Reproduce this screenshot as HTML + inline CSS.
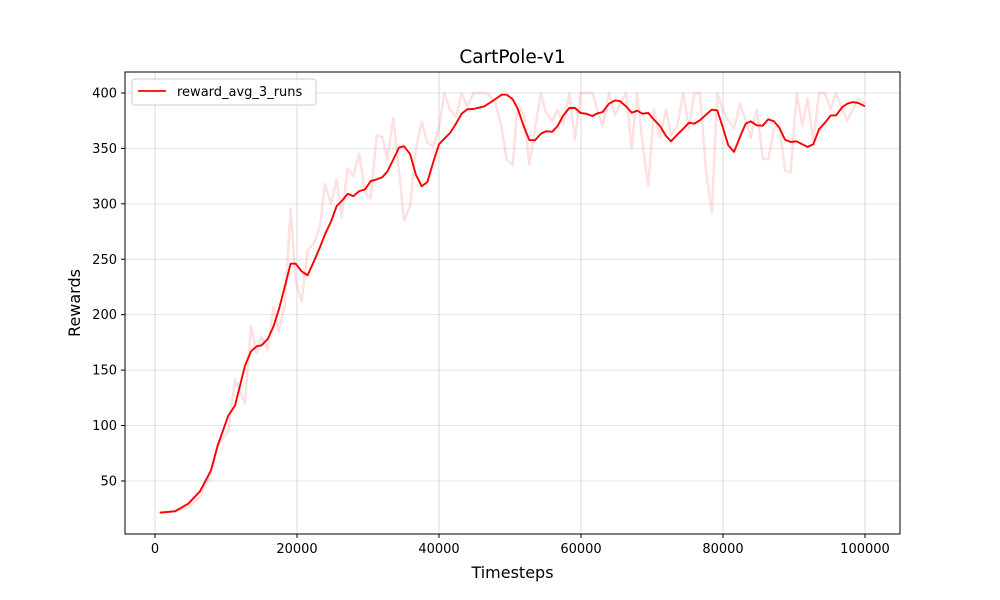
<!DOCTYPE html>
<html><head><meta charset="utf-8"><style>
body{margin:0;background:#fff;}
svg{display:block;font-family:"DejaVu Sans","Liberation Sans",sans-serif;}
</style></head><body>
<svg id="chart" width="1000" height="600" viewBox="0 0 1000 600" xmlns="http://www.w3.org/2000/svg">
<rect width="1000" height="600" fill="#fff"/>
<g id="grid"></g>
<g id="plot"></g>
<rect x="125" y="72" width="775" height="462" fill="none" stroke="#000" stroke-width="1"/>
<g id="ticks"></g>
<text x="512.5" y="63" text-anchor="middle" font-size="18.5">CartPole-v1</text>
<text x="512.5" y="578" text-anchor="middle" font-size="16">Timesteps</text>
<text transform="translate(80,303) rotate(-90)" text-anchor="middle" font-size="16">Rewards</text>
<g>
<rect x="132" y="79" width="184" height="26" rx="3" fill="#fff" fill-opacity="0.8" stroke="#ccc"/>
<line x1="138" y1="91" x2="166" y2="91" stroke="#f00" stroke-width="1.8"/>
<text x="177" y="96" font-size="13">reward_avg_3_runs</text>
</g>
</svg>
<script>
const timesteps=[660,2820,4690,6340,7890,8830,10330,11270,12680,13520,14320,15020,15870,16660,17460,18310,19100,19820,20660,21500,22440,23240,23940,24790,25590,26300,27140,27930,28780,29580,30380,31220,32020,
32720,33570,34370,35070,35920,36760,37560,38360,39200,40000,40750,41550,42390,43190,43990,44830,45630,46380,47180,48030,48830,49530,50380,51080,51970,52720,53520,54370,55070,55960,56710,57510,58350,59150,59950,60700,61590,62300,63050,63940,64790,65490,66340,67140,67920,
68660,69480,70280,71130,71970,72680,73570,74410,75210,75960,76760,77610,78410,79200,79960,80750,81550,82390,83190,83900,84740,85590,86380,87180,87930,88730,89530,90380,91170,91920,92720,93520,94370,95170,95920,96810,97510,98270,99060,100000];
const smoothed=[21.4,22.6,29.5,40.7,59.6,82,109,118,154,167,171.5,172.4,178,189,205,226,246,246,239,235.5,249,261,272.5,284,298,302.5,309,307,311.5,313,320.5,322,324,
329,340,350.6,352,345,326,315.8,319.7,337.7,353.7,358.7,363.9,372.3,381.3,385.3,385.5,386.7,388,391.2,394.9,398.4,398.4,394.3,385.8,369.3,357.6,357.3,363.3,365.4,365.1,370.2,379.8,386.4,386.4,381.9,381.3,379.2,381.6,382.8,390.3,393.3,392.7,388,382.2,384,
381.3,381.9,375.9,370.2,361.2,356.4,362.4,367.8,373.2,372.3,375.4,380.4,384.9,384.3,369.3,352.8,346.8,360.3,372.3,374.4,370.8,370.5,376.2,374.4,368.7,357.8,355.8,356.4,353.7,351.3,353.7,367.2,373.2,379.8,379.8,387.3,390.3,391.8,390.9,388];
const raw=[22,23,26,36,57,82,95,142,120,190,165,180,168,207,185,210,296,230,212,258,265,280,318,300,322,288,332,325,345,310,305,362,360,
340,377,330,285,298,350,374,355,352,368,400,385,378,400,387,400,400,400,398,390,368,340,335,390,380,335,368,400,382,375,385,372,400,358,400,400,400,385,370,400,380,390,400,350,400,
355,316,385,360,385,362,370,400,368,400,400,330,292,400,385,375,368,390,376,360,385,341,340,368,372,330,328,400,370,395,356,400,400,385,400,385,375,385,395,390];
const xTicks=[0,20000,40000,60000,80000,100000];
const yTicks=[50,100,150,200,250,300,350,400];

const NS='http://www.w3.org/2000/svg';
function X(t){return 155+t*0.0071;}
function Y(v){return 536.4-v*1.1086;}
function mk(tag,attrs,parent){const e=document.createElementNS(NS,tag);for(const k in attrs)e.setAttribute(k,attrs[k]);parent.appendChild(e);return e;}
const grid=document.getElementById('grid'),plot=document.getElementById('plot'),ticks=document.getElementById('ticks');
xTicks.forEach(t=>{
  const g=mk('line',{x1:X(t),x2:X(t),y1:72,y2:534,stroke:'#b0b0b0','stroke-opacity':0.45,'stroke-width':1},grid);
  
  
  const tk=mk('line',{x1:X(t),x2:X(t),y1:534,y2:538,stroke:'#000'},ticks);
  
  
  const lb=mk('text',{x:X(t),y:553,'text-anchor':'middle','font-size':13},ticks);
  lb.textContent=t;
  
  
});
yTicks.forEach(v=>{
  const g=mk('line',{x1:125,x2:900,y1:Y(v),y2:Y(v),stroke:'#b0b0b0','stroke-opacity':0.35,'stroke-width':1},grid);
  
  
  const tk=mk('line',{x1:121,x2:125,y1:Y(v),y2:Y(v),stroke:'#000'},ticks);
  
  
  const lb=mk('text',{x:117,y:Y(v)+4.5,'text-anchor':'end','font-size':13},ticks);
  lb.textContent=v;
  
  
});
const rawPts=timesteps.map((t,i)=>X(t).toFixed(1)+','+Y(raw[i]).toFixed(1)).join(' ');
const rl=mk('polyline',{points:rawPts,fill:'none',stroke:'#f00','stroke-opacity':0.12,'stroke-width':2.4,'stroke-linejoin':'round'},plot);


const smPts=timesteps.map((t,i)=>X(t).toFixed(1)+','+Y(smoothed[i]).toFixed(1)).join(' ');
const sl=mk('polyline',{points:smPts,fill:'none',stroke:'#f00','stroke-width':1.9,'stroke-linejoin':'round'},plot);


</script>
</body></html>
